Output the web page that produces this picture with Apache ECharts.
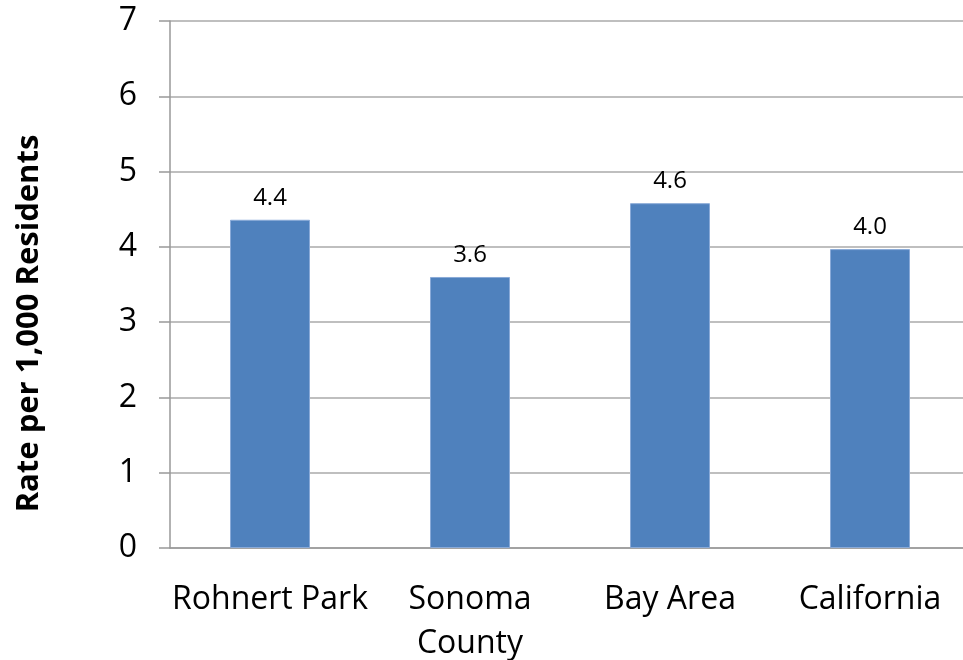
<!DOCTYPE html>
<html><head><meta charset="utf-8">
<script src="https://cdn.jsdelivr.net/npm/echarts@6/dist/echarts.min.js"></script>
<style>html,body{margin:0;padding:0;background:#fff}#c{width:963px;height:660px}</style>
</head><body><div id="c"></div>
<script>
var categories = ['Rohnert Park', 'Sonoma\nCounty', 'Bay Area', 'California'];
var values = [4.36, 3.6, 4.58, 3.97];
var yTicks = [0, 1, 2, 3, 4, 5, 6, 7];
var yName = 'Rate per 1,000 Residents';
var chart = echarts.init(document.getElementById('c'));
var font = '"Open Sans", "Liberation Sans", sans-serif';
chart.setOption({
  animation: false,
  grid: {left: 170, right: -7, top: 21, bottom: 112, containLabel: false, outerBoundsMode: 'none'},
  xAxis: {
    type: 'category', data: categories,
    axisLine: {lineStyle: {color: '#999', width: 1.5}},
    axisTick: {show: false},
    axisLabel: {color: '#000', fontSize: 32, fontFamily: font, margin: 30, lineHeight: 44, interval: 0}
  },
  yAxis: {
    type: 'value', min: yTicks[0], max: yTicks[yTicks.length - 1], interval: 1,
    name: yName, nameLocation: 'middle', nameGap: 125, nameRotate: 90,
    nameTextStyle: {color: '#000', fontSize: 31, fontWeight: 'bold', fontFamily: font, padding: [0, 78, 0, 0]},
    axisLine: {show: true, lineStyle: {color: '#999', width: 1.5}},
    axisTick: {show: true, length: 11, lineStyle: {color: '#999', width: 1.5}},
    axisLabel: {color: '#000', fontSize: 32, fontFamily: font, margin: 33},
    splitLine: {lineStyle: {color: '#aaa', width: 1.5}}
  },
  series: [{
    type: 'bar', data: values, barWidth: '40%',
    itemStyle: {color: '#4F81BD', borderColor: '#8AAAD8', borderWidth: 1},
    label: {show: true, position: 'top', distance: 10, color: '#000', fontSize: 24, fontFamily: font,
      formatter: function (p) { return p.value.toFixed(1); }}
  }]
});
</script></body></html>
